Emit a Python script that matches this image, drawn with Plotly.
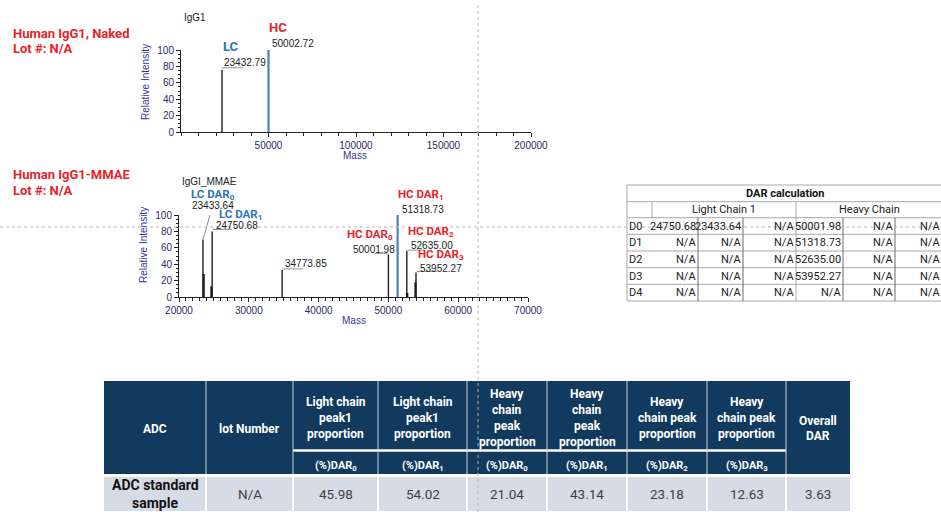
import plotly.graph_objects as go

# ---------------- data ----------------
naked_mass = [23432.79, 50002.72]
naked_intensity = [76, 100]
naked_tags = ["LC", "HC"]

mmae_mass = [23433.64, 24750.68, 34773.85, 50001.98, 51318.73, 52635.00, 53952.27]
mmae_intensity = [70, 80, 33, 52, 100, 56, 30]
mmae_tags = ["LC DAR<sub>0</sub>", "LC DAR<sub>1</sub>", "", "HC DAR<sub>0</sub>",
             "HC DAR<sub>1</sub>", "HC DAR<sub>2</sub>", "HC DAR<sub>3</sub>"]

# unlabelled shoulder peaks next to the main species
shoulder_mass = [23540.0, 24640.0, 52700.0, 53880.0]
shoulder_intensity = [28, 13, 5, 18]

dar_rows = ["D0", "D1", "D2", "D3", "D4"]
dar_light = [["24750.68", "23433.64", "N/A"],
             ["N/A", "N/A", "N/A"],
             ["N/A", "N/A", "N/A"],
             ["N/A", "N/A", "N/A"],
             ["N/A", "N/A", "N/A"]]
dar_heavy = [["50001.98", "N/A", "N/A"],
             ["51318.73", "N/A", "N/A"],
             ["52635.00", "N/A", "N/A"],
             ["53952.27", "N/A", "N/A"],
             ["N/A", "N/A", "N/A"]]

summary_headers = ["ADC", "lot Number",
                   "Light chain<br>peak1<br>proportion", "Light chain<br>peak1<br>proportion",
                   "Heavy<br>chain<br>peak<br>proportion", "Heavy<br>chain<br>peak<br>proportion",
                   "Heavy<br>chain peak<br>proportion", "Heavy<br>chain peak<br>proportion",
                   "Overall<br>DAR"]
summary_subheaders = [None, None,
                      "(%)DAR<sub>0</sub>", "(%)DAR<sub>1</sub>",
                      "(%)DAR<sub>0</sub>", "(%)DAR<sub>1</sub>",
                      "(%)DAR<sub>2</sub>", "(%)DAR<sub>3</sub>", None]
summary_values = ["ADC standard<br>sample", "N/A", "45.98", "54.02",
                  "21.04", "43.14", "23.18", "12.63", "3.63"]

# ---------------- canvas helpers ----------------
W, H = 941, 512
RED = "#e8232b"
BLUE = "#2e75b6"
NAVY = "#113a5e"
TICK = "#2b2b5e"
AXT = "#3535a0"
LEAD = "#8c9679"
SPEC_FONT = "Liberation Sans"
TAB_FONT = "Roboto"


def fx(x):
    return x / W


def fy(y):
    return 1 - y / H


annotations = []
shapes = []


def text(x, y, s, size=10, color="#222", bold=False, anchor="center", family=SPEC_FONT, angle=0):
    if bold:
        s = "<b>" + s + "</b>"
    if "<sub>" in s:
        y += size * 0.2
    annotations.append(dict(x=fx(x), y=fy(y), xref="paper", yref="paper", text=s,
                            showarrow=False, xanchor=anchor, yanchor="middle",
                            textangle=angle, borderpad=0,
                            font=dict(family=family, size=size, color=color)))


def rect(x0, y0, x1, y1, fill, line_color=None, width=0):
    shapes.append(dict(type="rect", xref="paper", yref="paper",
                       x0=fx(x0), x1=fx(x1), y0=fy(y0), y1=fy(y1),
                       fillcolor=fill, layer="below",
                       line=dict(color=line_color or fill, width=width)))


def hline(x0, x1, y, color, width=1, dash="solid", layer="below"):
    shapes.append(dict(type="line", xref="paper", yref="paper",
                       x0=fx(x0), x1=fx(x1), y0=fy(y), y1=fy(y), layer=layer,
                       line=dict(color=color, width=width, dash=dash)))


def vline(x, y0, y1, color, width=1, dash="solid", layer="below"):
    shapes.append(dict(type="line", xref="paper", yref="paper",
                       x0=fx(x), x1=fx(x), y0=fy(y0), y1=fy(y1), layer=layer,
                       line=dict(color=color, width=width, dash=dash)))


def sticks(mass, inten):
    xs, ys = [], []
    for m, h in zip(mass, inten):
        xs += [m, m, None]
        ys += [0, h, None]
    return xs, ys


fig = go.Figure()

# ---------------- spectra ----------------
def add_spectrum(mass, inten, xa, ya, extra_mass=(), extra_int=()):
    base = [i for i, h in enumerate(inten) if h >= 100]
    other = [i for i, h in enumerate(inten) if h < 100]
    xs, ys = sticks([mass[i] for i in other], [inten[i] for i in other])
    fig.add_trace(go.Scatter(x=xs, y=ys, mode="lines", xaxis=xa, yaxis=ya,
                             line=dict(color="#1e1e1e", width=1.4), hoverinfo="skip"))
    if extra_mass:
        xs, ys = sticks(extra_mass, extra_int)
        fig.add_trace(go.Scatter(x=xs, y=ys, mode="lines", xaxis=xa, yaxis=ya,
                                 line=dict(color="#1e1e1e", width=2.2), hoverinfo="skip"))
    xs, ys = sticks([mass[i] for i in base], [inten[i] for i in base])
    fig.add_trace(go.Scatter(x=xs, y=ys, mode="lines", xaxis=xa, yaxis=ya,
                             line=dict(color="#4a82b8", width=2.2), hoverinfo="skip"))


add_spectrum(naked_mass, naked_intensity, "x", "y")
add_spectrum(mmae_mass, mmae_intensity, "x2", "y2", shoulder_mass, shoulder_intensity)

# label placement per peak: (value anchor, dx, dy, tag anchor, dx, dy, leader segment)
naked_layout = [("left", 1, 7, "left", 0, 23, (0, 2, 21, 2)),
                ("left", 2, 7, "left", -1, 23, (0, 2, 21, 2))]
mmae_layout = [("center", 10, 34, "center", 10, 45.5, (0, 0, 8, 28)),
               ("left", 3, 6, "left", 6, 17, (0, 2, 20, 2)),
               ("left", 2, 6, "left", 0, 0, (0, 1, 21, 1)),
               ("right", 8, 5, "right", 6, 20, (-14, 1, -1, 1)),
               ("left", 3, 6, "left", -1, 21, (2, 2, 20, 2)),
               ("left", 3, 6, "left", 0, 19.5, (0, 1, 18, 1)),
               ("left", 3, 4, "left", 1, 17.5, (1, 1, 21, 1))]


def label_peaks(mass, inten, tags, layout, xa, ya):
    for m, h, tag, (va, vdx, vdy, ta, tdx, tdy, seg) in zip(mass, inten, tags, layout):
        annotations.append(dict(x=m, y=h, xref=xa, yref=ya, text=f"{m:.2f}",
                                showarrow=False, xanchor=va, yanchor="middle",
                                xshift=vdx, yshift=vdy, borderpad=0,
                                font=dict(family=SPEC_FONT, size=10, color="#222")))
        if tag:
            col = BLUE if tag.startswith("LC") else RED
            size = 11.5 if "<sub>" in tag else 13
            annotations.append(dict(x=m, y=h, xref=xa, yref=ya, text="<b>" + tag + "</b>",
                                    showarrow=False, xanchor=ta, yanchor="middle",
                                    xshift=tdx, yshift=tdy, borderpad=0,
                                    font=dict(family=TAB_FONT, size=size, color=col)))
        shapes.append(dict(type="line", xref=xa, yref=ya,
                           xsizemode="pixel", ysizemode="pixel", xanchor=m, yanchor=h,
                           x0=seg[0], y0=seg[1], x1=seg[2], y1=seg[3],
                           line=dict(color=LEAD, width=1)))


label_peaks(naked_mass, naked_intensity, naked_tags, naked_layout, "x", "y")
label_peaks(mmae_mass, mmae_intensity, mmae_tags, mmae_layout, "x2", "y2")

axis_common = dict(ticks="outside", tickcolor="#222", showline=True, linecolor="#222",
                   linewidth=1, showgrid=False, zeroline=False, automargin=False,
                   tickformat="d",
                   tickfont=dict(family=SPEC_FONT, size=10, color=TICK))

fig.update_layout(
    xaxis=dict(domain=[fx(181), fx(531)], range=[0, 200000], anchor="y",
               tickmode="array", tickvals=[50000, 100000, 150000, 200000], ticklen=4,
               minor=dict(dtick=10000, tick0=0, ticks="outside", ticklen=2.5, tickcolor="#222"),
               **axis_common),
    yaxis=dict(domain=[fy(132), fy(50)], range=[0, 100], anchor="x", dtick=20, ticklen=4,
               minor=dict(dtick=5, ticks="outside", ticklen=2.5, tickcolor="#222"),
               **axis_common),
    xaxis2=dict(domain=[fx(179), fx(528)], range=[20000, 70000], anchor="y2",
                dtick=10000, ticklen=4,
                minor=dict(dtick=1000, ticks="outside", ticklen=2.5, tickcolor="#222"),
                **axis_common),
    yaxis2=dict(domain=[fy(297), fy(215)], range=[0, 100], anchor="x2", dtick=20, ticklen=4,
                minor=dict(dtick=5, ticks="outside", ticklen=2.5, tickcolor="#222"),
                **axis_common),
)

# axis titles and spectrum captions
text(145, 82, "Relative Intensity", 10, AXT, angle=-90)
text(143, 245, "Relative Intensity", 10, AXT, angle=-90)
text(355, 155, "Mass", 10, AXT)
text(354, 320, "Mass", 10, AXT)
text(183, 17, "IgG1", 10, "#222", anchor="left")
text(181, 181, "IgGI_MMAE", 10, "#222", anchor="left")

# sample captions
text(12, 33, "Human IgG1, Naked", 13, RED, True, "left", TAB_FONT)
text(12, 48, "Lot #: N/A", 13, RED, True, "left", TAB_FONT)
text(12, 174, "Human IgG1-MMAE", 13, RED, True, "left", TAB_FONT)
text(12, 190, "Lot #: N/A", 13, RED, True, "left", TAB_FONT)

# ---------------- DAR calculation table ----------------
dcols = [627, 652, 698, 743, 796, 843, 895, 942]
drows = [185, 201.7, 217.7, 234.3, 251, 267.7, 284.3, 301]
GRID = "#a8a8a8"
DARK = "#6a6a6a"
rect(dcols[0], drows[0], dcols[-1], drows[-1], "white", GRID, 1)
for y in drows[1:-1]:
    hline(dcols[0], dcols[-1], y, GRID)
vline(dcols[1], drows[1], drows[2], GRID)
vline(dcols[4], drows[1], drows[-1], GRID)
for x in (dcols[2], dcols[3], dcols[5], dcols[6]):
    vline(x, drows[2], drows[-1], DARK)
text((dcols[0] + dcols[-1]) / 2, (drows[0] + drows[1]) / 2, "DAR calculation", 11, "#111", True, family=TAB_FONT)
text((dcols[1] + dcols[4]) / 2, (drows[1] + drows[2]) / 2, "Light Chain 1", 11, "#222", family=TAB_FONT)
text((dcols[4] + dcols[-1]) / 2, (drows[1] + drows[2]) / 2, "Heavy Chain", 11, "#222", family=TAB_FONT)
for r, name in enumerate(dar_rows):
    yc = (drows[r + 2] + drows[r + 3]) / 2
    text(dcols[0] + 1, yc, name, 11, "#222", anchor="left", family=TAB_FONT)
    cells = dar_light[r] + dar_heavy[r]
    for c, val in enumerate(cells):
        text(dcols[c + 2] - 1, yc, val, 11, "#222", anchor="right", family=TAB_FONT)

# ---------------- summary table ----------------
scols = [104, 206, 293, 378, 467, 547, 627, 707, 786, 850]
top, split, sub_top, head_bot, row_top, row_bot = 381, 449, 452, 474, 477, 511
rect(scols[0], top, scols[-1], head_bot, NAVY)
rect(scols[0], row_top, scols[-1], row_bot, "#d6dce6")
hline(scols[2], scols[-2], (split + sub_top) / 2, "white", 2.5)
for x in scols[1:-1]:
    vline(x, top, head_bot, "#c9d3de", 1)
    vline(x, row_top, row_bot, "white", 2)

for c, head in enumerate(summary_headers):
    xc = (scols[c] + scols[c + 1]) / 2
    lines = head.split("<br>")
    if summary_subheaders[c] is None:
        yc, step = (top + head_bot) / 2 + 1, 15
    else:
        yc, step = 418, 16
    for i, ln in enumerate(lines):
        text(xc, yc + (i - (len(lines) - 1) / 2) * step, ln, 12, "white", True, family=TAB_FONT)
    if summary_subheaders[c] is not None:
        text(xc, (sub_top + head_bot) / 2 + 1, summary_subheaders[c], 11, "white", True, family=TAB_FONT)

for c, val in enumerate(summary_values):
    xc = (scols[c] + scols[c + 1]) / 2
    lines = val.split("<br>")
    bold = c == 0
    for i, ln in enumerate(lines):
        text(xc, (row_top + row_bot) / 2 + (i - (len(lines) - 1) / 2) * 18, ln,
             14 if bold else 13.5, "#111" if bold else "#404040", bold, family=TAB_FONT)

# crosshair guides
vline(478, 5, 512, "#b4b4b4", 1, "dot", "above")
hline(0, 941, 227, "#b4b4b4", 1, "dot", "above")

fig.update_layout(width=W, height=H,
                  margin=dict(l=0, r=0, t=0, b=0, pad=0, autoexpand=False),
                  paper_bgcolor="white", plot_bgcolor="white", showlegend=False,
                  annotations=annotations, shapes=shapes)

fig.write_html("out.html")
